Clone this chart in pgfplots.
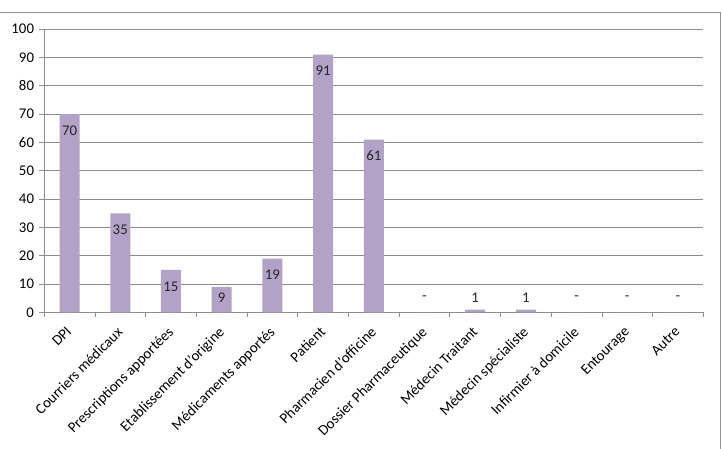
\documentclass[border=0pt]{standalone}
\usepackage{pgfplots}
\pgfplotsset{compat=1.18}
\usepackage{fontspec}
\setmainfont{Carlito}
\definecolor{barfill}{RGB}{179,162,199}
\definecolor{gridc}{RGB}{140,140,140}
\definecolor{framec}{RGB}{150,150,150}
\begin{document}
\begin{tikzpicture}[x=1pt,y=1pt]
\useasboundingbox (0,0) rectangle (722,449);
\draw[framec, line width=1pt] (0,436) -- (720,436) -- (720,0);
\begin{axis}[
  at={(44.2pt,136.5pt)}, anchor=south west,
  scale only axis, width=659.1pt, height=283.5pt,
  xmin=-0.5, xmax=12.5, ymin=0, ymax=100,
  axis lines*=left,
  axis line style={gridc},
  ytick={0,10,...,100},
  ymajorgrids, grid style={gridc, line width=0.8pt},
  xtick={0,...,12},
  xticklabels={DPI,Courriers médicaux,Prescriptions apportées,Etablissement d'origine,Médicaments apportés,Patient,Pharmacien d'officine,Dossier Pharmaceutique,Médecin Traitant,Médecin spécialiste,Infirmier à domicile,Entourage,Autre},
  minor xtick={-0.5,0.5,...,12.5},
  tick align=outside, tick pos=left,
  major x tick style={draw=none},
  tick style={gridc, line width=0.8pt},
  major tick length=5pt, minor tick length=5pt,
  /pgf/number format/assume math mode=true,
  ticklabel style={font=\fontsize{14.8}{17}\selectfont, text=black},
  xticklabel style={xshift=-4pt, yshift=-8pt, rotate=45, anchor=north east, inner sep=0pt},
  yticklabel style={inner sep=2pt, xshift=-3pt},
  clip=false,
]
\addplot[ybar, bar width=20pt, fill=barfill, draw=none] coordinates {
 (0,70) (1,35) (2,15) (3,9) (4,19) (5,91) (6,61) (7,0) (8,1) (9,1) (10,0) (11,0) (12,0)};
\addplot[draw=none, nodes near coords, point meta=explicit symbolic,
  nodes near coords style={anchor=center, font=\fontsize{14.8}{17}\selectfont, text=black!85}] coordinates {
 (0,64.2)[70] (1,29.2)[35] (2,9.2)[15] (3,5.1)[9] (4,13.2)[19] (5,85.2)[91] (6,55.2)[61]
 (7,5.1)[-] (8,5.1)[1] (9,5.1)[1] (10,5.1)[-] (11,5.1)[-] (12,5.1)[-]};
\end{axis}
\end{tikzpicture}
\end{document}
